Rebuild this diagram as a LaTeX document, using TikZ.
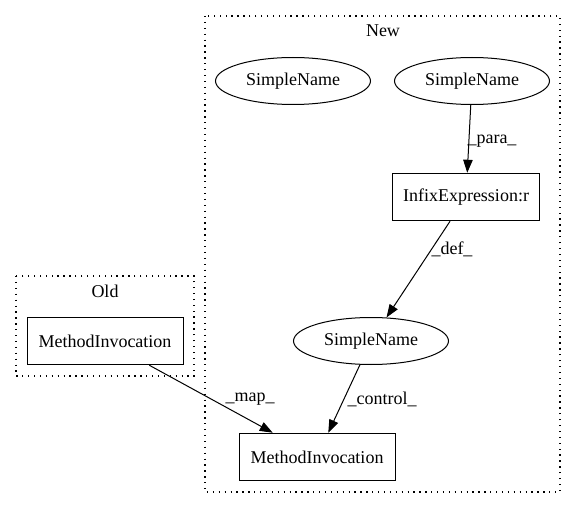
\documentclass[tikz,border=0pt]{standalone}
\usepackage{fontspec}
\setmainfont{Liberation Serif}
\usetikzlibrary{arrows.meta,shapes.geometric}
\begin{document}
\begin{tikzpicture}[x=1pt,y=-1pt,
  every node/.style={font=\fontsize{18}{21}\selectfont, inner sep=0pt},
  box/.style={draw, line width=1pt, minimum width=156pt, minimum height=47.5pt},
  ell/.style={draw, ellipse, line width=1pt, minimum width=155pt, minimum height=47pt},
  cluster/.style={draw, line width=1.1pt, dash pattern=on 1.3pt off 4.6pt},
  edge/.style={draw, line width=1pt, -{Triangle[length=13pt,width=9.5pt]}}]
\useasboundingbox (0,0) rectangle (576,508);
% clusters
\draw[cluster] (205,16) rectangle (560,492);
\node (newlbl) at (383,31) {New};
\draw[cluster] (16,276) rectangle (194,376);
\node (oldlbl) at (105,291) {Old};
% nodes
\node[ell] (sn1) at (293,81) {SimpleName};
\node[ell] (sn2) at (472,81) {SimpleName};
\node[box, minimum width=147pt] (infix) at (466,197) {InfixExpression:r};
\node[ell] (sn3) at (371,341) {SimpleName};
\node[box] (mio) at (105,341) {MethodInvocation};
\node[box] (min) at (317,457) {MethodInvocation};
% edges
\draw[edge] (sn2) -- (infix);
\draw[edge] (infix) -- (sn3);
\draw[edge] (mio) -- (min);
\draw[edge] (sn3) -- (min);
% labels
\node (lpara) at (492,141) {\_para\_};
\node (ldef) at (452,249) {\_def\_};
\node (lmap) at (250,399) {\_map\_};
\node (lcontrol) at (382,399) {\_control\_};
\end{tikzpicture}
\end{document}
